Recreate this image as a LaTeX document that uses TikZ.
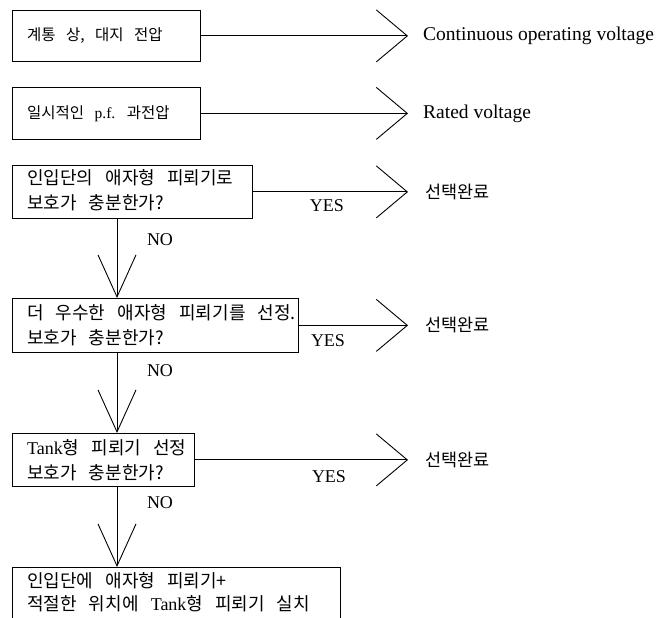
\documentclass[tikz,border=0pt]{standalone}
\usepackage{fontspec}
\setmainfont{Liberation Serif}
\newfontfamily\krfont{Noto Sans CJK KR}[WordSpace=3]
\usetikzlibrary{arrows.meta}
\newcommand\lat[1]{{\normalfont #1}}
\begin{document}
\begin{tikzpicture}[x=1pt,y=-1pt,
  boxnode/.style={draw, line width=0.8pt, anchor=north west, inner sep=0pt},
  boxtext/.style={anchor=west, inner sep=0pt, align=left, font=\krfont\fontsize{18}{25}\selectfont},
  smalltext/.style={boxtext, font=\krfont\fontsize{15.5}{22}\selectfont},
  harrow/.style={line width=0.9pt, -{Straight Barb[length=31pt,width=52pt]}},
  varrow/.style={line width=0.9pt, -{Straight Barb[length=42pt,width=38pt]}},
  outtext/.style={anchor=west, inner sep=0pt, font=\fontsize{19.5}{22}\selectfont},
  krout/.style={anchor=west, inner sep=0pt, font=\krfont\fontsize{17.5}{20}\selectfont},
  lab/.style={inner sep=0pt, font=\fontsize{18}{20}\selectfont}]
\useasboundingbox (0,0) rectangle (670,618);
\clip (0,0) rectangle (670,618);

% boxes
\node[boxnode, minimum width=188pt, minimum height=51pt] (b1) at (12,10) {};
\node[boxnode, minimum width=188pt, minimum height=52pt] (b2) at (12,87) {};
\node[boxnode, minimum width=240pt, minimum height=53pt] (b3) at (12,165) {};
\node[boxnode, minimum width=286pt, minimum height=54pt] (b4) at (12,298) {};
\node[boxnode, minimum width=182pt, minimum height=53pt] (b5) at (12,433) {};
\node[boxnode, minimum width=328pt, minimum height=58pt] (b6) at (12,567) {};

% box texts
\node[smalltext] (t1) at ([xshift=15pt]b1.west) {계통 상, 대지 전압};
\node[smalltext] (t2) at ([xshift=15pt]b2.west) {일시적인 \lat{p.f.} 과전압};
\node[boxtext] (t3) at ([xshift=15pt,yshift=2pt]b3.west) {인입단의 애자형 피뢰기로\\보호가 충분한가?};
\node[boxtext] (t4) at ([xshift=15pt]b4.west) {더 우수한 애자형 피뢰기를 선정.\\보호가 충분한가?};
\node[boxtext] (t5) at ([xshift=15pt]b5.west) {\lat{Tank}형 피뢰기 선정\\보호가 충분한가?};
\node[boxtext, font=\krfont\fontsize{18}{23}\selectfont] (t6) at ([xshift=15pt,yshift=4pt]b6.west) {인입단에 애자형 피뢰기+\\적절한 위치에 \lat{Tank}형 피뢰기 실치};

% horizontal connectors
\coordinate (tipx) at (408,0);
\draw[harrow] (b1.east) -- (b1.east -| tipx) coordinate (h1);
\draw[harrow] (b2.east) -- (b2.east -| tipx) coordinate (h2);
\draw[harrow] (b3.east) -- (b3.east -| tipx) coordinate (h3);
\draw[harrow] (b4.east) -- (b4.east -| tipx) coordinate (h4);
\draw[harrow] (b5.east) -- (b5.east -| tipx) coordinate (h5);

\node[outtext] (o1) at ([xshift=15pt]h1) {Continuous operating voltage};
\node[outtext] (o2) at ([xshift=15pt]h2) {Rated voltage};
\node[krout] (o3) at ([xshift=17pt]h3) {선택완료};
\node[krout] (o4) at ([xshift=17pt]h4) {선택완료};
\node[krout] (o5) at ([xshift=17pt]h5) {선택완료};

\node[lab] (y3) at (327,206) {YES};
\node[lab] (y4) at (328,341) {YES};
\node[lab] (y5) at (329,477) {YES};

% vertical connectors
\coordinate (vx) at (117,0);
\draw[varrow] (b3.south -| vx) -- (b4.north -| vx);
\draw[varrow] (b4.south -| vx) -- (b5.north -| vx);
\draw[varrow] (b5.south -| vx) -- (b6.north -| vx);

\node[lab] (n3) at (160,240) {NO};
\node[lab] (n4) at (160,371) {NO};
\node[lab] (n5) at (160,503) {NO};
\end{tikzpicture}
\end{document}
